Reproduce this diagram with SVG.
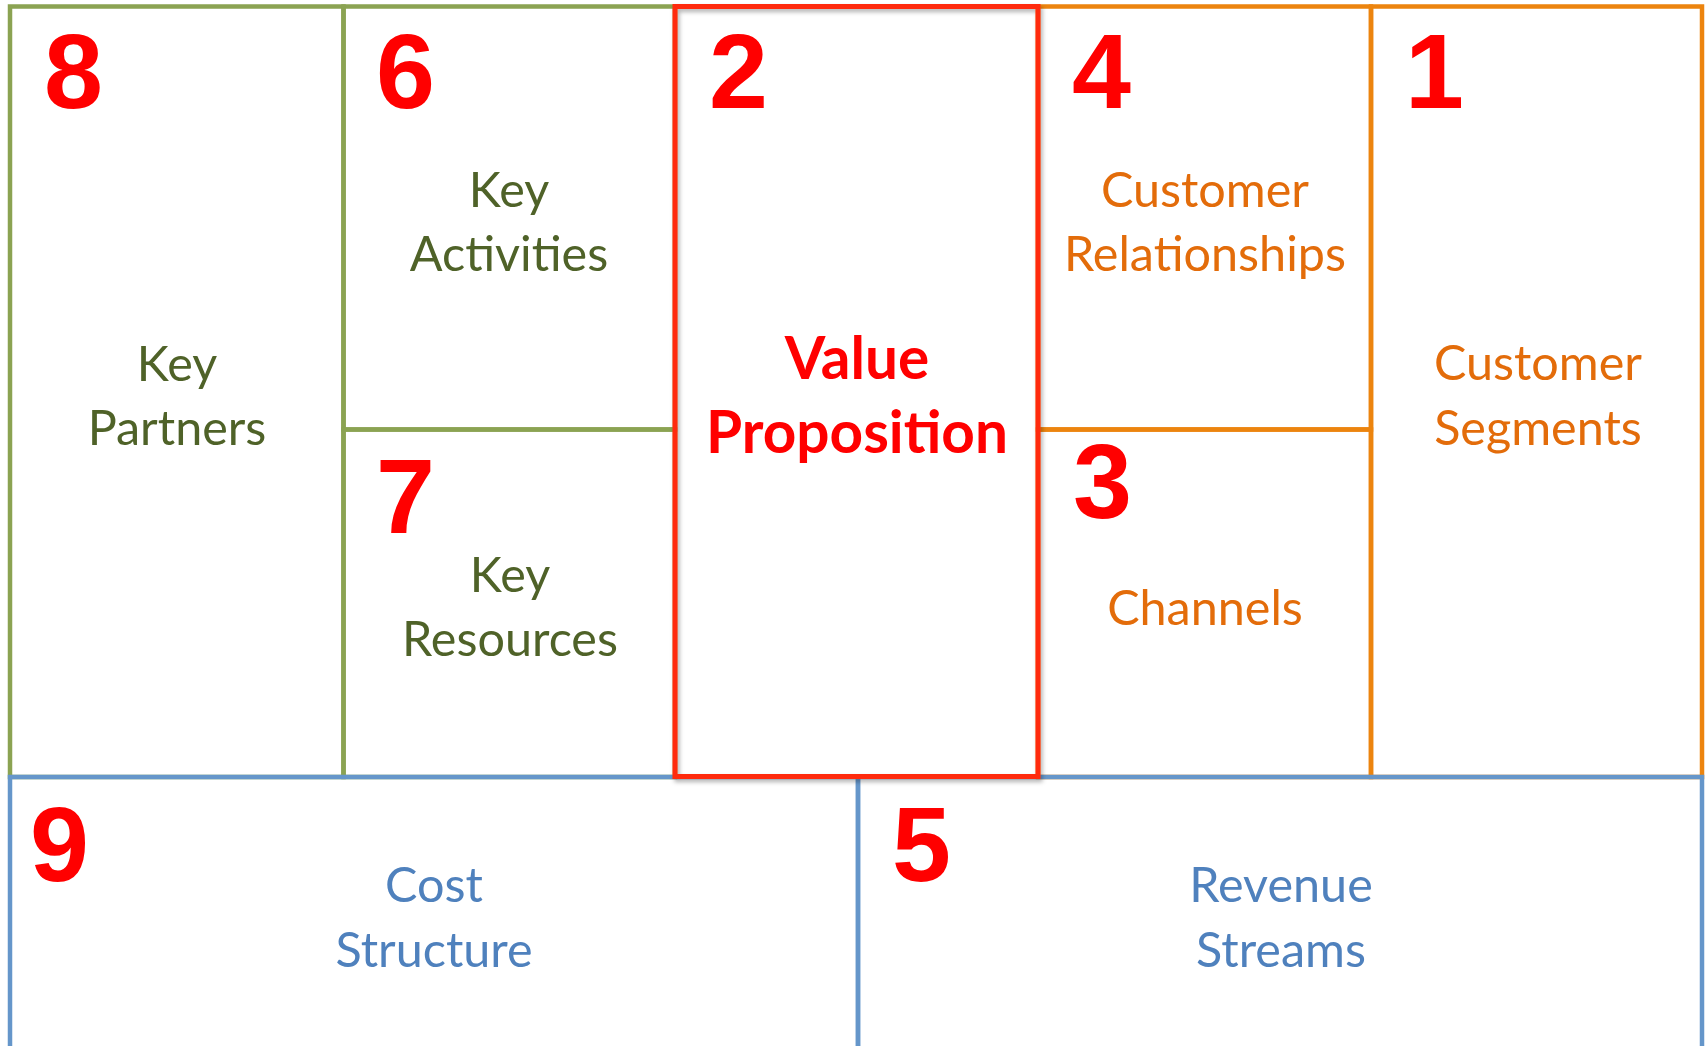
<svg xmlns="http://www.w3.org/2000/svg" width="1705" height="1046" viewBox="0 0 1705 1046">
<style>
.cell{fill:none;stroke-width:4.5}
.g{stroke:#8BA352}
.o{stroke:#EC840E}
.b{stroke:#6596CA}
.num{font-family:"Liberation Sans",Arial,sans-serif;font-weight:bold;font-size:106px;fill:#FF0000}
.lbl{font-family:Lato,"Open Sans",sans-serif;font-size:48.5px;text-anchor:middle}
.tg{fill:#4F6228}
.to{fill:#E36C0A}
.tb{fill:#4F81BD}
.vp{font-family:Lato,"Open Sans",sans-serif;font-weight:bold;font-size:58.5px;text-anchor:middle;fill:#FF0000}
</style>
<defs>
<filter id="sh" x="-5%" y="-5%" width="115%" height="115%">
<feDropShadow dx="2" dy="3" stdDeviation="2" flood-color="#000" flood-opacity="0.3"/>
</filter>
</defs>
<rect width="1705" height="1046" fill="#FFFFFF"/>
<g id="key-partners">
<rect class="cell g" x="10" y="6.5" width="333.5" height="770.5"/>
<text class="num" x="44" y="108">8</text>
<text class="lbl tg" x="177" y="381">Key</text>
<text class="lbl tg" x="177" y="445">Partners</text>
</g>
<g id="key-activities">
<rect class="cell g" x="343.5" y="6.5" width="331.5" height="423"/>
<text class="num" x="376" y="108">6</text>
<text class="lbl tg" x="509" y="207">Key</text>
<text class="lbl tg" x="509" y="271">Activities</text>
</g>
<g id="key-resources">
<rect class="cell g" x="343.5" y="429.5" width="331.5" height="347.5"/>
<text class="num" x="376" y="533">7</text>
<text class="lbl tg" x="510" y="592">Key</text>
<text class="lbl tg" x="510" y="656">Resources</text>
</g>
<g id="customer-relationships">
<rect class="cell o" x="1038" y="6.5" width="333" height="423"/>
<text class="num" x="1072" y="108">4</text>
<text class="lbl to" x="1205" y="207">Customer</text>
<text class="lbl to" x="1205" y="271">Relationships</text>
</g>
<g id="channels">
<rect class="cell o" x="1038" y="429.5" width="333" height="347.5"/>
<text class="num" x="1073" y="518">3</text>
<text class="lbl to" x="1205" y="625">Channels</text>
</g>
<g id="customer-segments">
<rect class="cell o" x="1371" y="6.5" width="331" height="770.5"/>
<text class="num" x="1405" y="108">1</text>
<text class="lbl to" x="1538" y="380">Customer</text>
<text class="lbl to" x="1538" y="445">Segments</text>
</g>
<g id="cost-structure">
<rect class="cell b" x="10" y="777" width="848" height="300"/>
<text class="num" x="30" y="881">9</text>
<text class="lbl tb" x="434" y="902">Cost</text>
<text class="lbl tb" x="434" y="967">Structure</text>
</g>
<g id="revenue-streams">
<rect class="cell b" x="858" y="777" width="844" height="300"/>
<text class="num" x="892" y="881">5</text>
<text class="lbl tb" x="1281" y="902">Revenue</text>
<text class="lbl tb" x="1281" y="967">Streams</text>
</g>
<g id="value-proposition">
<rect x="675" y="6.5" width="363" height="770" fill="none" stroke="#FF2A0A" stroke-width="5" filter="url(#sh)"/>
<text class="num" x="709" y="108">2</text>
<text class="vp" x="857" y="379">Value</text>
<text class="vp" x="857" y="453">Proposition</text>
</g>
</svg>
